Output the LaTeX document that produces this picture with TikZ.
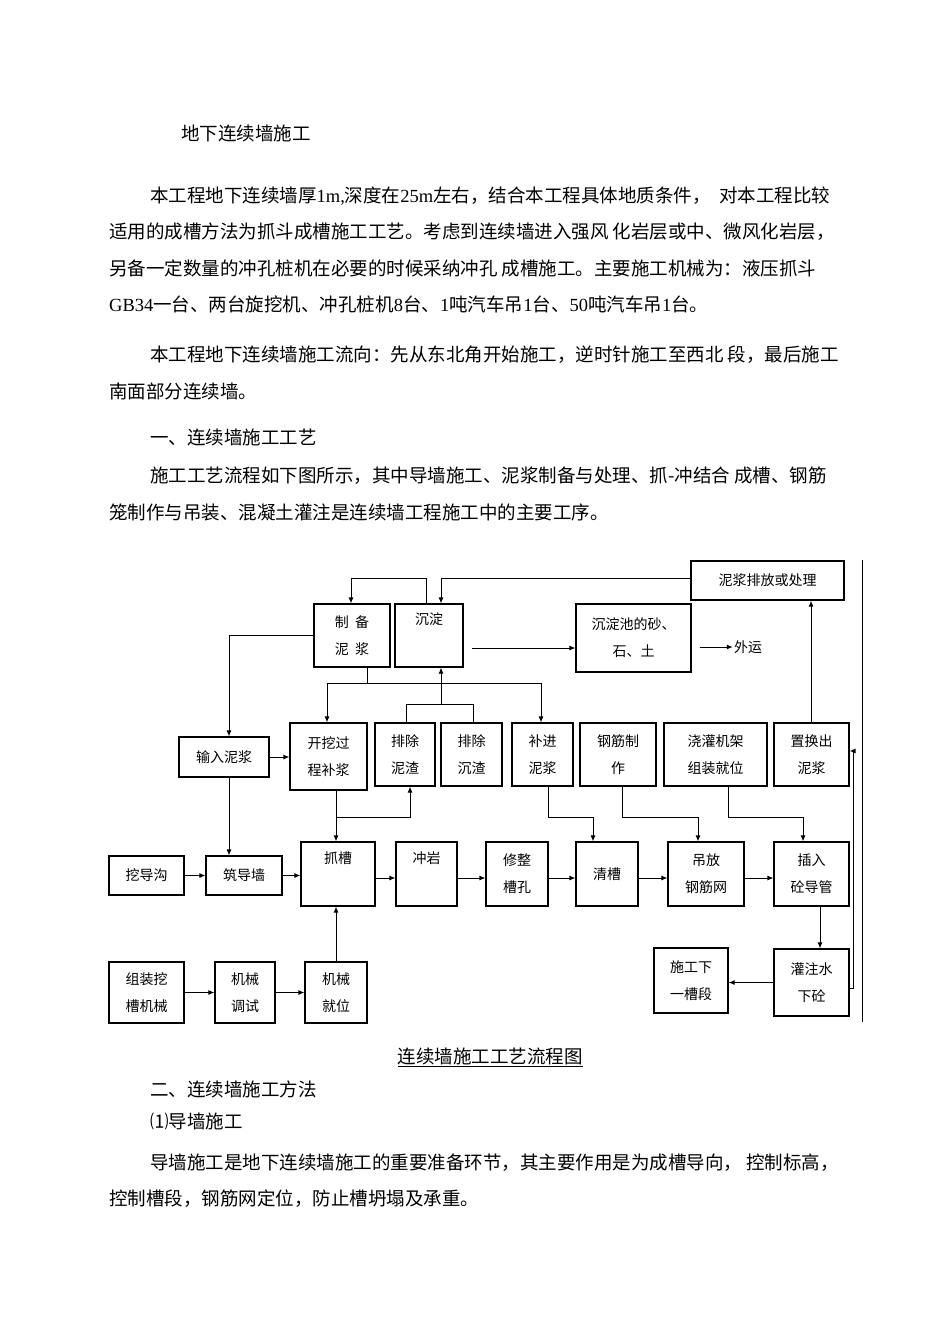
\documentclass[tikz,border=0pt]{standalone}
\usepackage{fontspec}
\setmainfont{Liberation Serif}
\newfontfamily\cjk{Noto Sans CJK SC}
\usetikzlibrary{arrows.meta}
\begin{document}
\begin{tikzpicture}[x=1pt,y=-1pt,
  box/.style={draw,line width=1.1pt,inner sep=0pt,align=center,font=\cjk\fontsize{14}{27}\selectfont},
  arr/.style={line width=1pt,-{Latex[length=6pt,width=5pt]}},
  ln/.style={line width=1pt},
  body/.style={anchor=west,inner sep=0pt,font=\cjk\fontsize{18.5}{20}\selectfont}]
\useasboundingbox (0,0) rectangle (950,1344);
\newcommand\bx[6]{\node[box,minimum width={(#4-#2)*1pt},minimum height={(#5-#3)*1pt}] (#1) at ({(#2+#4)/2},{(#3+#5)/2}) {#6};}
% text
\node[body] (t0) at (181,133) {地下连续墙施工};
\node[body] (p1) at (150,196) {本工程地下连续墙厚{\rmfamily 1m,}深度在{\rmfamily 25m}左右，结合本工程具体地质条件，\ \ 对本工程比较};
\node[body] (p2) at (109,232) {适用的成槽方法为抓斗成槽施工工艺。考虑到连续墙进入强风\ 化岩层或中、微风化岩层，};
\node[body] (p3) at (109,268) {另备一定数量的冲孔桩机在必要的时候采纳冲孔\ 成槽施工。主要施工机械为：液压抓斗};
\node[body] (p4) at (109,304) {{\rmfamily GB34}一台、两台旋挖机、冲孔桩机{\rmfamily 8}台、{\rmfamily 1}吨汽车吊{\rmfamily 1}台、{\rmfamily 50}吨汽车吊{\rmfamily 1}台。};
\node[body] (p5) at (150,355) {本工程地下连续墙施工流向：先从东北角开始施工，逆时针施工至西北\ 段，最后施工};
\node[body] (p6) at (109,391) {南面部分连续墙。};
\node[body] (p7) at (150,437) {一、连续墙施工工艺};
\node[body] (p8) at (150,476) {施工工艺流程如下图所示，其中导墙施工、泥浆制备与处理、抓{-}冲结合\ 成槽、钢筋};
\node[body] (p9) at (109,512) {笼制作与吊装、混凝土灌注是连续墙工程施工中的主要工序。};
\node[inner sep=0pt,font=\cjk\fontsize{18.5}{20}\selectfont] (cap) at (490,1057) {\underline{连续墙施工工艺流程图}};
\node[body] (q1) at (150,1089) {二、连续墙施工方法};
\node[body] (q2) at (150,1121) {⑴导墙施工};
\node[body] (q3) at (150,1163) {导墙施工是地下连续墙施工的重要准备环节，其主要作用是为成槽导向，\ 控制标高，};
\node[body] (q4) at (109,1199) {控制槽段，钢筋网定位，防止槽坍塌及承重。};
% boxes
\bx{pai}{691}{561}{844}{600}{泥浆排放或处理}
\bx{zhi}{314}{604}{390}{667}{制\ \ 备\\泥\ \ 浆}
\bx{chen}{395}{604}{463}{667}{沉淀\\[-2pt]\strut}
\bx{cdc}{576}{604}{691}{672}{沉淀池的砂、\\石、土}
\node[font=\cjk\fontsize{14}{16}\selectfont,inner sep=1pt] (wy) at (748,647) {外运};
\bx{shuru}{179}{737}{269}{777}{输入泥浆}
\bx{kw}{290}{723}{367}{790}{开挖过\\程补浆}
\bx{pzz}{375}{723}{435}{786}{排除\\泥渣}
\bx{pcz}{441}{723}{502}{786}{排除\\沉渣}
\bx{bj}{512}{723}{573}{786}{补进\\泥浆}
\bx{gj}{580}{723}{656}{786}{钢筋制\\作}
\bx{jj}{664}{723}{767}{786}{浇灌机架\\组装就位}
\bx{zh}{774}{723}{849}{786}{置换出\\泥浆}
\bx{wdg}{109}{856}{184}{895}{挖导沟}
\bx{zdq}{206}{856}{282}{895}{筑导墙}
\bx{zhua}{301}{842}{375}{906}{抓槽\\[-2pt]\strut}
\bx{cy}{396}{842}{457}{906}{冲岩\\[-2pt]\strut}
\bx{xz}{486}{842}{548}{906}{修整\\槽孔}
\bx{qc}{576}{842}{638}{906}{清槽}
\bx{dfw}{668}{842}{744}{906}{吊放\\钢筋网}
\bx{cr}{774}{842}{849}{906}{插入\\砼导管}
\bx{sg}{654}{948}{728}{1013}{施工下\\一槽段}
\bx{gz}{774}{949}{849}{1016}{灌注水\\下砼}
\bx{zz}{109}{962}{184}{1023}{组装挖\\槽机械}
\bx{ts}{215}{962}{275}{1023}{机械\\调试}
\bx{jw}{305}{962}{367}{1023}{机械\\就位}
% connectors
\draw[arr] (426,0 |- chen.north) -- (426,578) -- (351,578) -- (351,0 |- zhi.north);
\draw[arr] (pai.west |- 0,578) -- (441,578) -- (441,0 |- chen.north);
\draw[arr] (zhi.west) -| (229,0 |- shuru.north);
\draw[ln] (367,0 |- zhi.south) -- (367,683);
\draw[arr] (327,683) -- (541,683) -- (541,0 |- bj.north);
\draw[arr] (327,683) -- (327,0 |- kw.north);
\draw[ln] (406,0 |- pzz.north) -- (406,704) -- (473,704) -- (473,0 |- pcz.north);
\draw[arr] (441,704) -- (441,0 |- chen.south);
\draw[arr] ([xshift=8pt]chen.east |- 0,648) -- (cdc.west |- 0,648);
\draw[arr] ([xshift=8pt]cdc.east |- wy.west) -- (wy.west);
\draw[arr] (shuru.east) -- (kw.west |- shuru.east);
\draw[arr] (229,0 |- shuru.south) -- (229,0 |- zdq.north);
\draw[arr] (336,0 |- kw.south) -- (336,0 |- zhua.north);
\draw[arr] (336,817) -- (410,817) -- (410,0 |- pzz.south);
\draw[arr] (548,0 |- bj.south) -- (548,817) -- (593,817) -- (593,0 |- qc.north);
\draw[arr] (622,0 |- gj.south) -- (622,817) -- (698,817) -- (698,0 |- dfw.north);
\draw[arr] (728,0 |- jj.south) -- (728,817) -- (803,817) -- (803,0 |- cr.north);
\draw[arr] (811,0 |- zh.north) -- (811,0 |- pai.south);
\draw[arr] (wdg.east) -- (zdq.west |- wdg.east);
\draw[arr] (zdq.east) -- (zhua.west |- zdq.east);
\foreach \a/\b in {zhua/cy,cy/xz,xz/qc,qc/dfw,dfw/cr}
  \draw[arr] (\a.east |- 0,878) -- (\b.west |- 0,878);
\draw[arr] (820,0 |- cr.south) -- (820,0 |- gz.north);
\draw[arr] (gz.west) -- (sg.east |- gz.west);
\draw[arr] (gz.east |- 0,988) -- (853,988) -- (853,751) -- (zh.east |- 0,751);
\draw[arr] (zz.east) -- (ts.west |- zz.east);
\draw[arr] (ts.east) -- (jw.west |- ts.east);
\draw[arr] (336,0 |- jw.north) -- (336,0 |- zhua.south);
\draw[ln] (862,560) -- (862,1022);
\end{tikzpicture}
\end{document}
